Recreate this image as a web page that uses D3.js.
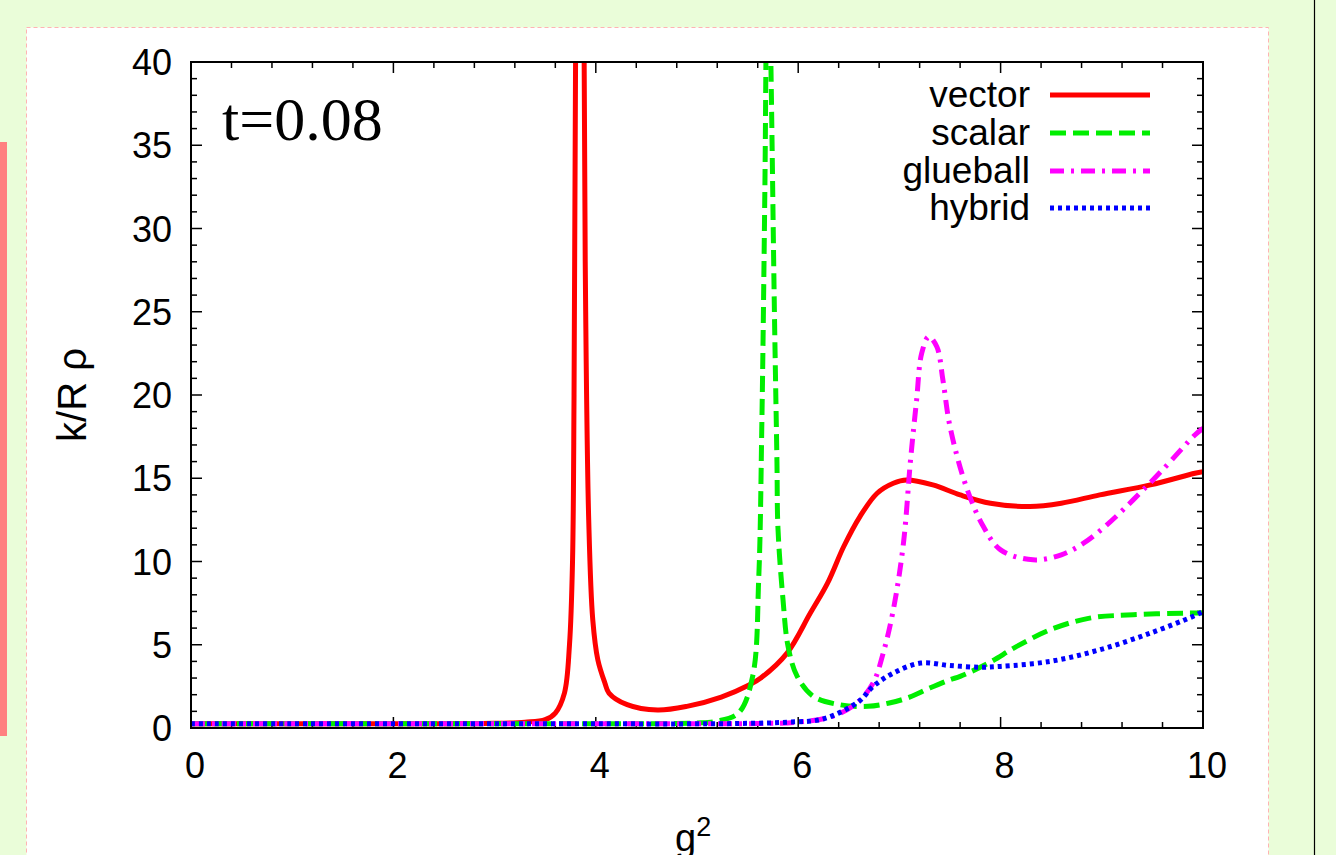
<!DOCTYPE html>
<html>
<head>
<meta charset="utf-8">
<script src="https://cdn.jsdelivr.net/npm/d3@7"></script>
<style>
  html, body { margin: 0; padding: 0; background: #eafdd9; }
  svg { display: block; }
</style>
</head>
<body>
<svg id="chart"></svg>
<script>
var W = 1336, H = 855;

// series as [g^2, k/R rho]
var vectorPts = [[0,0.25],[1,0.25],[2,0.25],[3,0.28],[3.3,0.35],[3.5,0.5],[3.6,0.9],[3.69,2.1],[3.74,5],[3.77,10],
  [3.785,20],[3.80,40],[3.82,70],[3.845,100],[3.87,70],[3.885,40],[3.90,25],[3.93,12.5],[3.97,6.5],[4.02,4.1],
  [4.09,2.7],[4.13,2.1],[4.31,1.4],[4.61,1.08],[4.9,1.3],[5.24,1.86],[5.52,2.6],[5.63,3.0],[5.89,4.5],
  [6.12,6.9],[6.29,8.7],[6.45,10.9],[6.61,12.7],[6.78,14.1],[6.94,14.7],[7.07,14.9],[7.33,14.6],[7.6,14.0],
  [7.9,13.5],[8.29,13.3],[8.6,13.5],[8.98,14.0],[9.48,14.6],[9.92,15.3],[10,15.4]];

var scalarPts = [[0,0.25],[1,0.25],[2,0.25],[3,0.25],[4,0.25],[4.8,0.27],[5.0,0.3],[5.19,0.4],[5.41,0.9],[5.55,3.1],
  [5.61,9],[5.64,18],[5.67,32],[5.70,50],[5.73,40],[5.765,25],[5.79,16],[5.80,12],[5.85,7.7],[5.90,4.9],
  [5.99,3.1],[6.15,1.9],[6.41,1.4],[6.69,1.3],[6.9,1.5],[7.1,1.85],[7.3,2.4],[7.5,2.9],[7.6,3.1],[7.88,3.9],
  [8.16,4.9],[8.49,5.9],[8.88,6.6],[9.31,6.8],[9.87,6.9],[10,6.9]];

var glueballPts = [[0,0.25],[1,0.25],[2,0.25],[3,0.25],[4,0.25],[5,0.25],[5.6,0.27],[5.99,0.35],[6.34,0.7],
  [6.58,1.5],[6.74,2.7],[6.84,4.5],[6.94,7.1],[7.04,11.1],[7.11,16.1],[7.17,19.7],[7.22,22.5],[7.29,23.5],
  [7.37,22.9],[7.43,20.9],[7.5,18.1],[7.66,14.5],[7.83,12.1],[8.0,10.7],[8.32,10.1],[8.6,10.4],[8.82,11.1],
  [9.05,12.2],[9.31,13.7],[9.6,15.5],[9.92,17.6],[10,18.0]];

var hybridPts = [[0,0.25],[1,0.25],[2,0.25],[3,0.25],[4,0.25],[5,0.25],[5.5,0.28],[5.9,0.35],[6.25,0.55],[6.6,1.6],
  [6.74,2.5],[6.94,3.3],[7.21,3.9],[7.5,3.75],[7.8,3.65],[8.0,3.7],[8.49,4.0],[8.98,4.7],[9.48,5.7],
  [9.9,6.7],[10,7.0]];

var seriesNames = ["vector", "scalar", "glueball", "hybrid"];
var seriesData = [vectorPts, scalarPts, glueballPts, hybridPts];
var seriesColors = ["#ff0000", "#00ee00", "#ff00ff", "#0000ff"];
var seriesDash = [null, "16,7", "14,7,3,7", "4,4"];

var xTicks = [0, 2, 4, 6, 8, 10];
var yTicks = [0, 5, 10, 15, 20, 25, 30, 35, 40];

var svg = d3.select("#chart").attr("width", W).attr("height", H);

// page decorations
svg.append("rect").attr("x", 0).attr("y", 0).attr("width", W).attr("height", H).attr("fill", "#eafdd9");
svg.append("rect").attr("x", 26.5).attr("y", 27.5).attr("width", 1242).attr("height", 840)
  .attr("fill", "#ffffff").attr("stroke", "#ffb3b3").attr("stroke-width", 1).attr("stroke-dasharray", "4,3");
svg.append("rect").attr("x", 0).attr("y", 142).attr("width", 7).attr("height", 594).attr("fill", "#ff8080");
svg.append("line").attr("x1", 1314.5).attr("x2", 1314.5).attr("y1", 0).attr("y2", H)
  .attr("stroke", "#000").attr("stroke-width", 1.2);

var pLeft = 191, pRight = 1203, pTop = 62, pBottom = 728;

var x = d3.scaleLinear().domain([0, 10]).range([pLeft, pRight]);
var y = d3.scaleLinear().domain([0, 40]).range([pBottom, pTop]);

var font = "'Liberation Sans', Arial, Helvetica, sans-serif";

// clip
svg.append("clipPath").attr("id", "clip")
  .append("rect").attr("x", pLeft).attr("y", pTop).attr("width", pRight - pLeft).attr("height", pBottom - pTop);

// ticks, mirrored on all sides
var g = svg.append("g");
var xMinor = d3.range(0, 10.001, 0.4);
var yMinor = d3.range(0, 40.001, 1);
xMinor.forEach(function(v) {
  var major = xTicks.some(function(t) { return Math.abs(t - v) < 1e-6; });
  var len = major ? 11 : 6;
  g.append("line").attr("x1", x(v)).attr("x2", x(v)).attr("y1", pBottom).attr("y2", pBottom - len)
    .attr("stroke", "#000").attr("stroke-width", 1.5);
  g.append("line").attr("x1", x(v)).attr("x2", x(v)).attr("y1", pTop).attr("y2", pTop + len)
    .attr("stroke", "#000").attr("stroke-width", 1.5);
});
yMinor.forEach(function(v) {
  var major = v % 5 === 0;
  var len = major ? 11 : 6;
  g.append("line").attr("x1", pLeft).attr("x2", pLeft + len).attr("y1", y(v)).attr("y2", y(v))
    .attr("stroke", "#000").attr("stroke-width", 1.5);
  g.append("line").attr("x1", pRight).attr("x2", pRight - len).attr("y1", y(v)).attr("y2", y(v))
    .attr("stroke", "#000").attr("stroke-width", 1.5);
});

// tick labels
svg.selectAll(".xl").data(xTicks).enter().append("text")
  .attr("class", "xl")
  .attr("x", function(d) { return x(d) + 4; })
  .attr("y", 778)
  .attr("text-anchor", "middle")
  .attr("font-family", font).attr("font-size", "36px")
  .text(function(d) { return d; });

svg.selectAll(".yl").data(yTicks).enter().append("text")
  .attr("class", "yl")
  .attr("x", 172)
  .attr("y", function(d) { return y(d) + 13; })
  .attr("text-anchor", "end")
  .attr("font-family", font).attr("font-size", "36px")
  .text(function(d) { return d; });

// curves
var line = d3.line()
  .x(function(d) { return x(d[0]); })
  .y(function(d) { return y(d[1]); })
  .curve(d3.curveCatmullRom.alpha(0.5));

var curves = svg.append("g").attr("clip-path", "url(#clip)");
seriesData.forEach(function(pts, i) {
  curves.append("path")
    .attr("d", line(pts))
    .attr("fill", "none")
    .attr("stroke", seriesColors[i])
    .attr("stroke-width", 5)
    .attr("stroke-dasharray", seriesDash[i]);
});

// frame
svg.append("rect").attr("x", pLeft).attr("y", pTop).attr("width", pRight - pLeft).attr("height", pBottom - pTop)
  .attr("fill", "none").attr("stroke", "#000").attr("stroke-width", 2);

// legend
var legendY = [95, 133, 171, 208];
seriesNames.forEach(function(name, i) {
  svg.append("text").attr("x", 1030).attr("y", legendY[i] + 12)
    .attr("text-anchor", "end").attr("font-family", font).attr("font-size", "37px")
    .text(name);
  svg.append("line").attr("x1", 1050).attr("x2", 1150).attr("y1", legendY[i]).attr("y2", legendY[i])
    .attr("stroke", seriesColors[i]).attr("stroke-width", 5)
    .attr("stroke-dasharray", seriesDash[i]);
});

// title inside plot
svg.append("text").attr("x", 222).attr("y", 140)
  .attr("font-family", "'Liberation Serif', 'Times New Roman', serif").attr("font-size", "62px")
  .text("t=0.08");

// axis labels
svg.append("text")
  .attr("transform", "translate(86,395) rotate(-90)")
  .attr("text-anchor", "middle")
  .attr("font-family", font).attr("font-size", "40px")
  .text("k/R ρ");

var xl = svg.append("text").attr("x", 675).attr("y", 851)
  .attr("font-family", font).attr("font-size", "38px");
xl.append("tspan").text("g");
xl.append("tspan").attr("font-size", "27px").attr("dy", -15).text("2");
</script>
</body>
</html>
